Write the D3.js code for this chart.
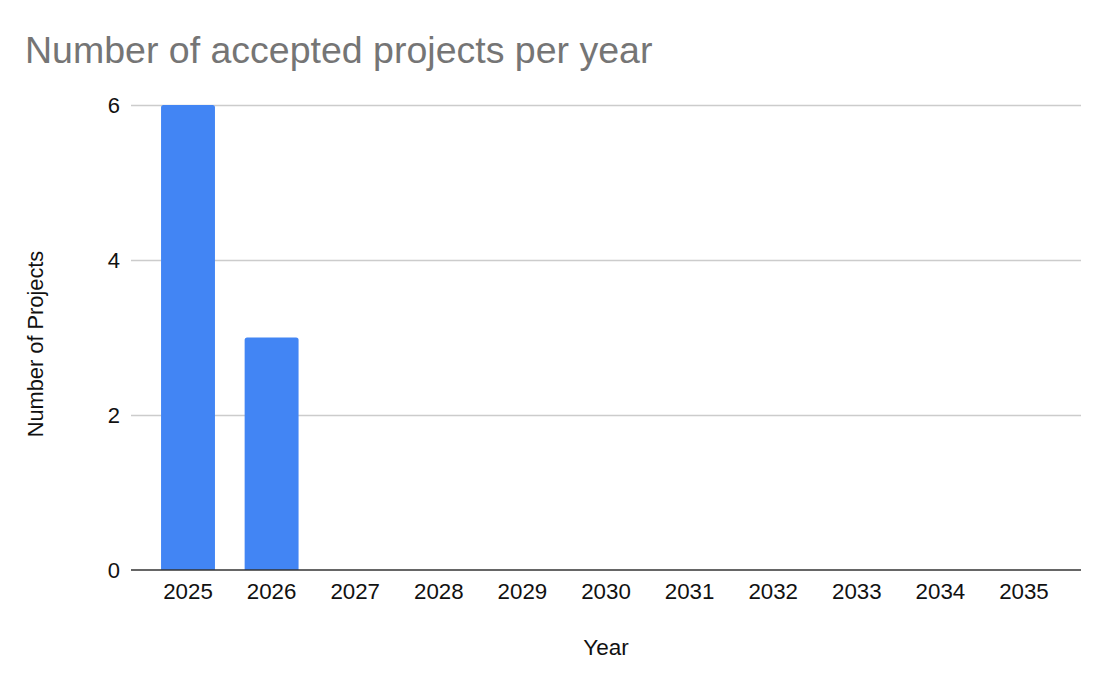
<!DOCTYPE html>
<html>
<head>
<meta charset="utf-8">
<script src="https://cdn.jsdelivr.net/npm/d3@7"></script>
<style>
  body { margin: 0; background: #fff; }
  text { font-family: "Liberation Sans", Arial, sans-serif; }
</style>
</head>
<body>
<svg id="chart" width="1105" height="688"></svg>
<script>
const years = ["2025", "2026", "2027", "2028", "2029", "2030", "2031", "2032", "2033", "2034", "2035"];
const projects = [6, 3, 0, 0, 0, 0, 0, 0, 0, 0, 0];
const yTicks = [0, 2, 4, 6];

const svg = d3.select("#chart");
const plot = { left: 131, right: 1081, top: 105, bottom: 570 };

const x = d3.scaleBand()
  .domain(years)
  .range([plot.left + 15, plot.right - 15])
  .paddingInner(0.355)
  .paddingOuter(0.18);

const y = d3.scaleLinear().domain([0, 6]).range([plot.bottom, plot.top]);

// gridlines
svg.append("g")
  .selectAll("line")
  .data(yTicks.filter((d) => d !== 0))
  .join("line")
  .attr("x1", plot.left)
  .attr("x2", plot.right)
  .attr("y1", (d) => y(d) + 0.5)
  .attr("y2", (d) => y(d) + 0.5)
  .attr("stroke", "#cccccc")
  .attr("stroke-width", 1.5);

// y tick labels
svg.append("g")
  .selectAll("text")
  .data(yTicks)
  .join("text")
  .attr("x", 120)
  .attr("y", (d) => y(d))
  .attr("dy", "0.36em")
  .attr("text-anchor", "end")
  .attr("font-size", 22)
  .attr("fill", "#111")
  .text((d) => d);

// bars with slightly rounded tops
const r = 2.5;
svg.append("g")
  .selectAll("path")
  .data(years.map((yr, i) => ({ year: yr, value: projects[i] })).filter((d) => d.value > 0))
  .join("path")
  .attr("fill", "#4285f4")
  .attr("d", (d) => {
    const x0 = x(d.year), x1 = x0 + x.bandwidth();
    const y0 = y(d.value), y1 = y(0);
    return `M${x0},${y1}V${y0 + r}Q${x0},${y0} ${x0 + r},${y0}H${x1 - r}Q${x1},${y0} ${x1},${y0 + r}V${y1}Z`;
  });

// baseline
svg.append("line")
  .attr("x1", plot.left)
  .attr("x2", plot.right)
  .attr("y1", y(0))
  .attr("y2", y(0))
  .attr("stroke", "#333")
  .attr("stroke-width", 1.5);

// x tick labels
svg.append("g")
  .selectAll("text")
  .data(years)
  .join("text")
  .attr("x", (d) => x(d) + x.bandwidth() / 2)
  .attr("y", 599)
  .attr("text-anchor", "middle")
  .attr("font-size", 22.3)
  .attr("fill", "#111")
  .text((d) => d);

// titles
svg.append("text")
  .attr("x", 25)
  .attr("y", 63)
  .attr("font-size", 37.5)
  .attr("fill", "#757575")
  .text("Number of accepted projects per year");

svg.append("text")
  .attr("x", 606)
  .attr("y", 655)
  .attr("text-anchor", "middle")
  .attr("font-size", 22.5)
  .attr("fill", "#111")
  .text("Year");

svg.append("text")
  .attr("transform", "translate(43,344) rotate(-90)")
  .attr("text-anchor", "middle")
  .attr("font-size", 21.8)
  .attr("fill", "#111")
  .text("Number of Projects");
</script>
</body>
</html>
